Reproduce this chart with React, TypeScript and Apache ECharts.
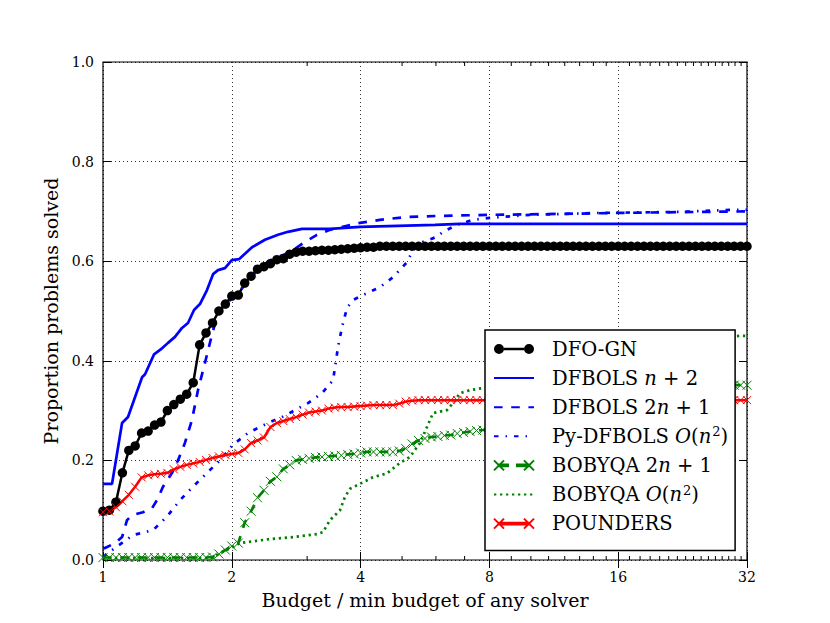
import React, { useEffect, useRef } from 'react';
import * as echarts from 'echarts';

// Budget grid (ratio to min budget of any solver) used by the marker series
const budgets = [
  1.000, 1.035, 1.072, 1.110, 1.149, 1.189, 1.231, 1.275, 1.320, 1.366,
  1.414, 1.464, 1.516, 1.569, 1.625, 1.682, 1.741, 1.803, 1.866, 1.932,
  2.000, 2.071, 2.144, 2.219, 2.297, 2.378, 2.462, 2.549, 2.639, 2.732,
  2.828, 2.928, 3.031, 3.138, 3.249, 3.364, 3.482, 3.605, 3.732, 3.864,
  4.000, 4.141, 4.287, 4.438, 4.595, 4.757, 4.925, 5.098, 5.278, 5.464,
  5.657, 5.856, 6.063, 6.277, 6.498, 6.727, 6.964, 7.210, 7.464, 7.727,
  8.000, 8.282, 8.574, 8.877, 9.190, 9.514, 9.849, 10.196, 10.556, 10.928,
  11.314, 11.713, 12.126, 12.553, 12.996, 13.454, 13.929, 14.420, 14.929, 15.455,
  16.000, 16.564, 17.148, 17.753, 18.379, 19.027, 19.698, 20.393, 21.112, 21.857,
  22.627, 23.425, 24.251, 25.107, 25.992, 26.909, 27.858, 28.840, 29.857, 30.910,
  32.000,
];

const dfoGN = [
  0.098, 0.100, 0.116, 0.175, 0.220, 0.229, 0.255, 0.259, 0.271, 0.277,
  0.300, 0.312, 0.323, 0.333, 0.356, 0.432, 0.456, 0.476, 0.500, 0.514,
  0.530, 0.532, 0.556, 0.570, 0.584, 0.589, 0.595, 0.603, 0.605, 0.614,
  0.618, 0.620, 0.620, 0.621, 0.622, 0.622, 0.623, 0.624, 0.625, 0.626,
  0.627, 0.628, 0.628, 0.630, 0.630, 0.630, 0.630, 0.630, 0.630, 0.630,
  0.630, 0.630, 0.630, 0.630, 0.630, 0.630, 0.630, 0.630, 0.630, 0.630,
  0.630, 0.630, 0.630, 0.630, 0.630, 0.630, 0.630, 0.630, 0.630, 0.630,
  0.630, 0.630, 0.630, 0.630, 0.630, 0.630, 0.630, 0.630, 0.630, 0.630,
  0.630, 0.630, 0.630, 0.630, 0.630, 0.630, 0.630, 0.630, 0.630, 0.630,
  0.630, 0.630, 0.630, 0.630, 0.630, 0.630, 0.630, 0.630, 0.630, 0.630,
  0.630,
];

const bobyqa2n1 = [
  0.005, 0.005, 0.005, 0.005, 0.005, 0.005, 0.005, 0.005, 0.005, 0.005,
  0.005, 0.005, 0.005, 0.005, 0.005, 0.005, 0.005, 0.006, 0.012, 0.020,
  0.028, 0.034, 0.075, 0.098, 0.125, 0.140, 0.158, 0.167, 0.183, 0.191,
  0.200, 0.202, 0.204, 0.206, 0.207, 0.208, 0.209, 0.210, 0.212, 0.213,
  0.215, 0.217, 0.217, 0.217, 0.217, 0.217, 0.219, 0.224, 0.233, 0.240,
  0.244, 0.247, 0.248, 0.250, 0.251, 0.254, 0.256, 0.258, 0.260, 0.261,
  0.263, 0.265, 0.268, 0.270, 0.270, 0.276, 0.279, 0.282, 0.282, 0.288,
  0.290, 0.293, 0.296, 0.296, 0.302, 0.305, 0.308, 0.310, 0.313, 0.316,
  0.319, 0.321, 0.323, 0.325, 0.327, 0.329, 0.331, 0.333, 0.335, 0.337,
  0.339, 0.341, 0.343, 0.345, 0.347, 0.348, 0.349, 0.350, 0.351, 0.351,
  0.351,
];

const pounders = [
  0.096, 0.098, 0.106, 0.118, 0.131, 0.147, 0.166, 0.170, 0.172, 0.173,
  0.175, 0.182, 0.187, 0.191, 0.194, 0.197, 0.201, 0.205, 0.208, 0.211,
  0.213, 0.215, 0.222, 0.235, 0.240, 0.246, 0.267, 0.275, 0.279, 0.283,
  0.287, 0.292, 0.296, 0.298, 0.300, 0.304, 0.306, 0.307, 0.307, 0.308,
  0.309, 0.310, 0.311, 0.311, 0.311, 0.311, 0.314, 0.318, 0.320, 0.321,
  0.321, 0.321, 0.321, 0.321, 0.321, 0.321, 0.321, 0.321, 0.321, 0.321,
  0.321, 0.321, 0.321, 0.321, 0.321, 0.321, 0.321, 0.321, 0.321, 0.321,
  0.321, 0.321, 0.321, 0.321, 0.321, 0.321, 0.321, 0.321, 0.321, 0.321,
  0.321, 0.321, 0.321, 0.321, 0.321, 0.321, 0.321, 0.321, 0.321, 0.321,
  0.321, 0.321, 0.321, 0.321, 0.321, 0.321, 0.321, 0.321, 0.321, 0.321,
  0.321,
];

// Lines without markers: [budget, proportion]
const dfbolsN2 = [
  [1.000, 0.153], [1.050, 0.153], [1.108, 0.275], [1.144, 0.287], [1.234, 0.367],
  [1.254, 0.373], [1.316, 0.413], [1.374, 0.425], [1.419, 0.436], [1.473, 0.448],
  [1.530, 0.466], [1.580, 0.476], [1.632, 0.502], [1.685, 0.514], [1.750, 0.542],
  [1.808, 0.574], [1.857, 0.582], [1.928, 0.586], [2.000, 0.602], [2.079, 0.604],
  [2.230, 0.628], [2.391, 0.643], [2.565, 0.653], [2.706, 0.659], [2.918, 0.665],
  [3.392, 0.665], [3.987, 0.669], [5.970, 0.673], [6.830, 0.675], [32.00, 0.675],
];

const dfbols2n1 = [
  [1.000, 0.024], [1.011, 0.024], [1.067, 0.034], [1.108, 0.046], [1.138, 0.080],
  [1.169, 0.090], [1.240, 0.096], [1.302, 0.104], [1.337, 0.120], [1.381, 0.147],
  [1.450, 0.175], [1.497, 0.200], [1.554, 0.235], [1.614, 0.281], [1.667, 0.341],
  [1.731, 0.396], [1.797, 0.452], [1.857, 0.496], [1.938, 0.516], [2.013, 0.526],
  [2.124, 0.548], [2.291, 0.582], [2.457, 0.602], [2.736, 0.618], [2.934, 0.636],
  [3.163, 0.653], [3.392, 0.663], [3.717, 0.671], [3.987, 0.677], [4.440, 0.683],
  [5.134, 0.689], [6.130, 0.691], [7.900, 0.693], [11.70, 0.695], [16.16, 0.697],
  [24.85, 0.699], [32.00, 0.700],
];

const pyDfbols = [
  [1.000, 0.006], [1.027, 0.014], [1.175, 0.050], [1.309, 0.060], [1.411, 0.087],
  [1.513, 0.120], [1.623, 0.147], [1.750, 0.175], [1.876, 0.200], [2.011, 0.231],
  [2.182, 0.255], [2.430, 0.275], [2.620, 0.287], [2.810, 0.301], [3.014, 0.315],
  [3.250, 0.335], [3.449, 0.361], [3.543, 0.428], [3.620, 0.468], [3.717, 0.506],
  [3.840, 0.522], [4.053, 0.532], [4.440, 0.548], [4.763, 0.568], [5.134, 0.598],
  [5.300, 0.622], [5.600, 0.639], [6.030, 0.649], [6.230, 0.659], [6.720, 0.673],
  [7.320, 0.683], [8.010, 0.687], [9.950, 0.693], [14.50, 0.697], [22.30, 0.699],
  [29.20, 0.703], [32.00, 0.703],
];

const bobyqaOn2 = [
  [1.000, 0.004], [1.808, 0.004], [1.876, 0.014], [2.011, 0.026], [2.091, 0.034],
  [2.171, 0.036], [2.457, 0.042], [2.780, 0.046], [3.163, 0.052], [3.267, 0.056],
  [3.392, 0.080], [3.580, 0.100], [3.678, 0.127], [3.779, 0.143], [3.987, 0.153],
  [4.275, 0.166], [4.611, 0.174], [4.945, 0.195], [5.219, 0.207], [5.507, 0.235],
  [5.718, 0.267], [5.906, 0.295], [6.368, 0.301], [6.576, 0.315], [6.829, 0.335],
  [7.206, 0.341], [7.687, 0.345], [9.500, 0.352], [11.08, 0.370], [13.50, 0.385],
  [16.16, 0.400], [20.00, 0.418], [24.85, 0.440], [28.00, 0.448], [30.80, 0.450],
  [32.00, 0.450],
];

const xMinorTicks = [3, 5, 6, 7, 9, 10, 11, 12, 13, 14, 15, 17, 18, 19, 20, 21, 22, 23, 24, 25, 26, 27, 28, 29, 30, 31];

const seriesNames = [
  'DFO-GN', 'DFBOLS n+2', 'DFBOLS 2n+1', 'Py-DFBOLS O(n2)', 'BOBYQA 2n+1', 'BOBYQA O(n2)', 'POUNDERS',
];
const legendLabels: Record<string, string> = {
  'DFO-GN': 'DFO-GN',
  'DFBOLS n+2': 'DFBOLS {i|n} + 2',
  'DFBOLS 2n+1': 'DFBOLS 2{i|n} + 1',
  'Py-DFBOLS O(n2)': 'Py-DFBOLS {i|O}({i|n}{s|2})',
  'BOBYQA 2n+1': 'BOBYQA 2{i|n} + 1',
  'BOBYQA O(n2)': 'BOBYQA {i|O}({i|n}{s|2})',
  'POUNDERS': 'POUNDERS',
};

const SERIF = 'DejaVu Serif';
const CROSS = 'path://M0,0L10,10M10,0L0,10';
// legend handles with a marker at both ends (matplotlib style)
const ICON_DOTS = 'path://M0,5A5,5,0,1,1,10,5A5,5,0,1,1,0,5ZM10,3.75L30,3.75L30,6.25L10,6.25ZM30,5A5,5,0,1,1,40,5A5,5,0,1,1,30,5Z';
const ICON_CROSS_SOLID = 'path://M0,0L10,10M10,0L0,10M30,0L40,10M40,0L30,10M5,4.2L35,4.2L35,5.8L5,5.8Z';
const ICON_CROSS_DASH = 'path://M0,0L10,10M10,0L0,10M30,0L40,10M40,0L30,10M5,4.1L14,4.1L14,5.9L5,5.9ZM23,4.1L35,4.1L35,5.9L23,5.9Z';
const legendIcons: Record<string, any> = {
  'DFO-GN': { icon: ICON_DOTS },
  'BOBYQA 2n+1': { icon: ICON_CROSS_DASH },
  'POUNDERS': { icon: ICON_CROSS_SOLID },
};

export default function App() {
  const ref = useRef<HTMLDivElement>(null);
  useEffect(() => {
    document.body.style.margin = '0';
    if (!ref.current) return;
    const chart = echarts.init(ref.current, null, { renderer: 'svg' });
    const pair = (ys: number[]) => budgets.map((b, i) => [b, ys[i]]);
    const tick = { inside: true, length: 8, lineStyle: { color: '#000', width: 1 } };
    const grid = { show: true, lineStyle: { color: '#000', type: [1, 3], width: 0.8 } };
    const option: any = {
      animation: false,
      backgroundColor: '#ffffff',
      textStyle: { fontFamily: SERIF },
      grid: {
        left: 103, right: 83, top: 62, bottom: 63,
        show: true, borderColor: '#000', borderWidth: 1.2, backgroundColor: 'transparent',
      },
      xAxis: [
        {
          type: 'log', logBase: 2, min: 1, max: 32, splitNumber: 5, position: 'bottom',
          name: 'Budget / min budget of any solver', nameLocation: 'middle', nameGap: 30,
          nameTextStyle: { fontFamily: SERIF, fontSize: 19, color: '#000' },
          axisLine: { show: false }, axisTick: tick,
          axisLabel: { fontFamily: SERIF, fontSize: 14, color: '#000', margin: 10, showMinLabel: true, showMaxLabel: true },
          splitLine: grid,
        },
        {
          type: 'log', logBase: 2, min: 1, max: 32, splitNumber: 5, position: 'top',
          axisLine: { show: false }, axisTick: tick,
          axisLabel: { show: false }, splitLine: { show: false },
        },
      ],
      yAxis: [
        {
          type: 'value', min: 0, max: 1, interval: 0.2, position: 'left',
          name: 'Proportion problems solved', nameLocation: 'middle', nameGap: 41,
          nameTextStyle: { fontFamily: SERIF, fontSize: 19, color: '#000' },
          axisLine: { show: false }, axisTick: tick,
          axisLabel: { fontFamily: SERIF, fontSize: 14, color: '#000', margin: 9, formatter: (v: number) => v.toFixed(1) },
          splitLine: grid,
        },
        {
          type: 'value', min: 0, max: 1, interval: 0.2, position: 'right',
          axisLine: { show: false }, axisTick: tick,
          axisLabel: { show: false }, splitLine: { show: false },
        },
      ],
      legend: {
        data: seriesNames.map((n) =>
          legendIcons[n] ? { name: n, ...legendIcons[n] } : { name: n, itemStyle: { opacity: 0 } }
        ),
        orient: 'vertical',
        left: 485, top: 330,
        padding: [8, 7, 16, 8],
        itemWidth: 40, itemHeight: 14, itemGap: 7.1,
        symbolKeepAspect: true,
        backgroundColor: '#fff', borderColor: '#000', borderWidth: 1.5, borderRadius: 0,
        formatter: (name: string) => legendLabels[name] ?? name,
        textStyle: {
          fontFamily: SERIF, fontSize: 19.5, color: '#000', lineHeight: 22, padding: [0, 0, 0, 13],
          rich: {
            i: { fontFamily: SERIF, fontSize: 19.5, fontStyle: 'italic', color: '#000', lineHeight: 22 },
            s: { fontFamily: SERIF, fontSize: 13, color: '#000', verticalAlign: 'top', padding: [0, 0, 8, 1], lineHeight: 22 },
          },
        },
        z: 10,
      },
      series: [
        {
          name: 'DFO-GN', type: 'line', data: pair(dfoGN), symbol: 'circle', symbolSize: 9.5, showSymbol: true,
          lineStyle: { color: '#000', width: 2.5 }, itemStyle: { color: '#000' },
        },
        {
          name: 'DFBOLS n+2', type: 'line', data: dfbolsN2, symbol: 'none', showSymbol: false,
          lineStyle: { color: '#0000ff', width: 2.7 }, itemStyle: { color: '#0000ff' },
        },
        {
          name: 'DFBOLS 2n+1', type: 'line', data: dfbols2n1, symbol: 'none', showSymbol: false,
          lineStyle: { color: '#0000ff', width: 2.7, type: [8.6, 8.6] }, itemStyle: { color: '#0000ff' },
        },
        {
          name: 'Py-DFBOLS O(n2)', type: 'line', data: pyDfbols, symbol: 'none', showSymbol: false,
          lineStyle: { color: '#0000ff', width: 2.7, type: [4.5, 7, 1.5, 7] }, itemStyle: { color: '#0000ff' },
        },
        {
          name: 'BOBYQA 2n+1', type: 'line', data: pair(bobyqa2n1), symbol: CROSS, symbolSize: 9, showSymbol: true,
          lineStyle: { color: '#008000', width: 2.7, type: [8.6, 8.6] },
          itemStyle: { color: '#008000', borderColor: '#008000', borderWidth: 1 },
        },
        {
          name: 'BOBYQA O(n2)', type: 'line', data: bobyqaOn2, symbol: 'none', showSymbol: false,
          lineStyle: { color: '#008000', width: 2.7, type: [2.3, 3.7] }, itemStyle: { color: '#008000' },
        },
        {
          name: 'POUNDERS', type: 'line', data: pair(pounders), symbol: CROSS, symbolSize: 8, showSymbol: true,
          lineStyle: { color: '#ff0000', width: 2.5 },
          itemStyle: { color: '#ff0000', borderColor: '#ff0000', borderWidth: 1 },
        },
        {
          type: 'custom', name: 'minorTicks', xAxisIndex: 0, yAxisIndex: 0, silent: true, z: 5, clip: false,
          data: xMinorTicks.map((v) => [v, 0]),
          renderItem: (_params: any, api: any) => {
            const x = api.value(0);
            const b = api.coord([x, 0]);
            const t = api.coord([x, 1]);
            return {
              type: 'group',
              children: [
                { type: 'line', shape: { x1: b[0], y1: b[1], x2: b[0], y2: b[1] - 4 }, style: { stroke: '#000', lineWidth: 1 } },
                { type: 'line', shape: { x1: t[0], y1: t[1], x2: t[0], y2: t[1] + 4 }, style: { stroke: '#000', lineWidth: 1 } },
              ],
            };
          },
        },
      ],
    };
    chart.setOption(option);
    return () => chart.dispose();
  }, []);
  return <div ref={ref} style={{ width: 830, height: 623 }} />;
}
